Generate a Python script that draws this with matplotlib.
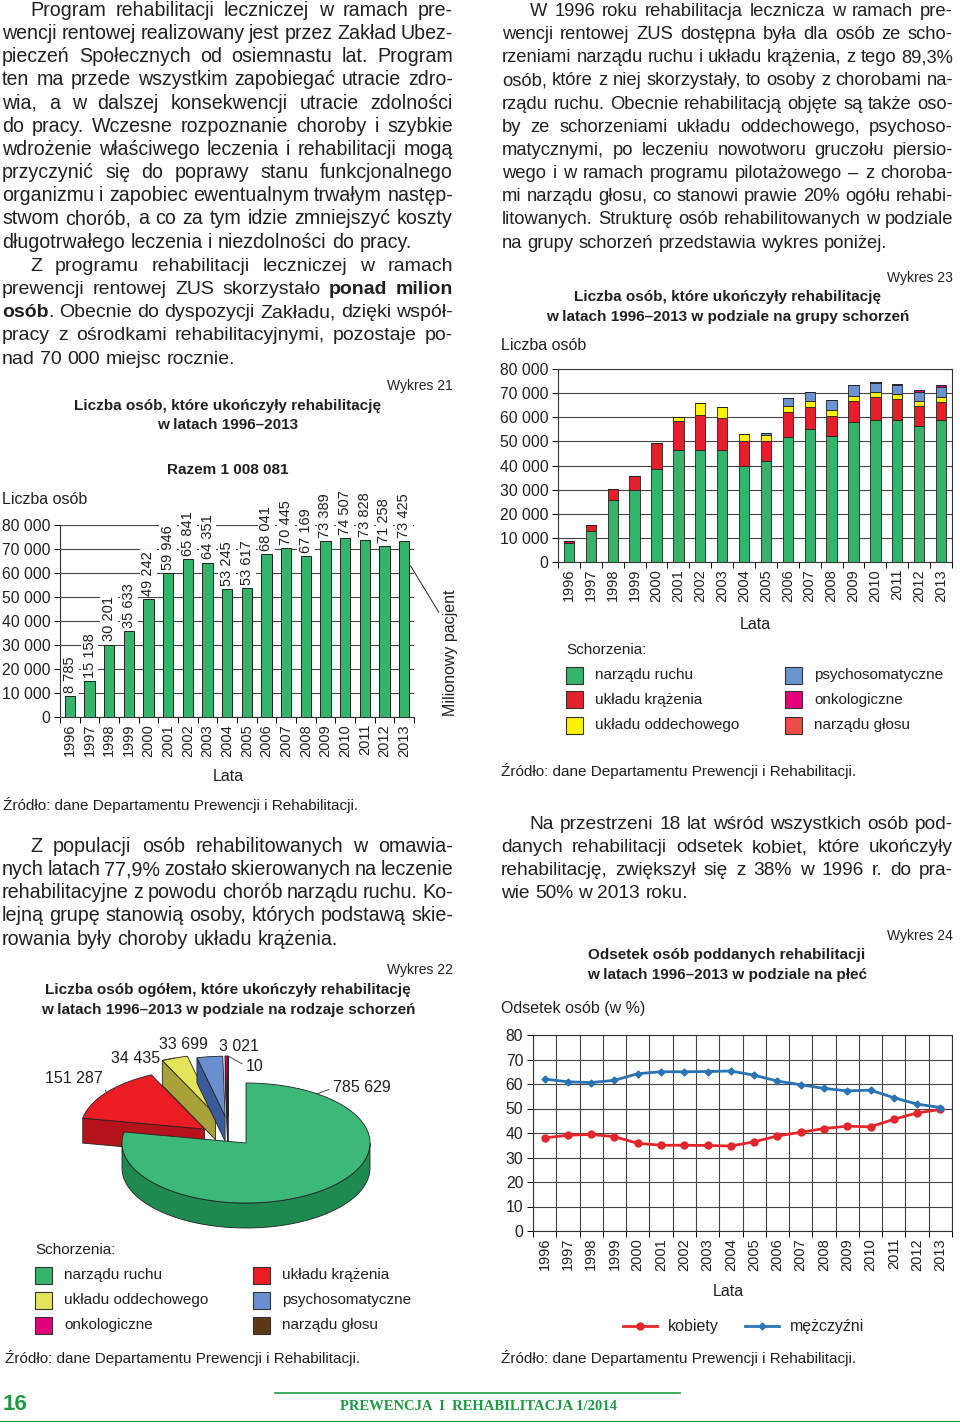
import numpy as np
import matplotlib
matplotlib.use('Agg')
import matplotlib.pyplot as plt
from matplotlib.patches import Polygon, Rectangle
from matplotlib.lines import Line2D

plt.rcParams['font.family'] = ['Liberation Sans', 'DejaVu Sans']

W, H = 960, 1424
INK = '#231f20'

# ---- data ----
years = [str(y) for y in range(1996, 2014)]
# Wykres 21 - total per year
totals = [8785, 15158, 30201, 35633, 49242, 59946, 65841, 64351, 53245,
          53617, 68041, 70445, 67169, 73389, 74507, 73828, 71258, 73425]
# Wykres 23 - per group of diseases
ruchu = [7845, 12700, 25500, 30000, 38500, 46500, 46500, 46500, 39900,
         41700, 51800, 55100, 52100, 58100, 58800, 58800, 56200, 58800]
krazenia = [940, 2458, 4701, 5633, 10742, 12100, 14500, 13200, 10400,
            8300, 10400, 9100, 8500, 8800, 9400, 8700, 8300, 7400]
oddech = [0, 0, 0, 0, 0, 1346, 4841, 4651, 2645,
          2817, 2600, 2400, 2500, 2000, 2100, 2300, 2100, 2000]
psycho = [0, 0, 0, 0, 0, 0, 0, 0, 300,
          800, 3241, 3845, 4069, 4389, 3907, 3628, 3858, 4300]
onko = [0, 0, 0, 0, 0, 0, 0, 0, 0,
        0, 0, 0, 0, 100, 300, 400, 800, 915]
glos = [0, 0, 0, 0, 0, 0, 0, 0, 0,
        0, 0, 0, 0, 0, 0, 0, 0, 10]
groups = ['narządu ruchu', 'układu krążenia', 'układu oddechowego',
          'psychosomatyczne', 'onkologiczne', 'narządu głosu']
# Wykres 22 - totals 1996-2013 per group
pie_vals = [785629, 151287, 34435, 33699, 3021, 10]
# Wykres 24 - share by sex (%)
kobiety = [38.0, 39.1, 39.4, 38.5, 35.8, 35.0, 35.0, 34.9, 34.7,
           36.4, 38.8, 40.3, 41.8, 42.8, 42.5, 45.6, 48.2, 49.6]
mezczyzni = [62.0, 60.9, 60.6, 61.5, 64.2, 65.0, 65.0, 65.1, 65.3,
             63.6, 61.2, 59.7, 58.2, 57.2, 57.5, 54.4, 51.8, 50.4]

bar_cols = ['#34b36a', '#e5202a', '#fff200', '#6b93d0', '#e4007c', '#ee4c46']
pie_top = ['#3cb878', '#ec1c24', '#e4e45a', '#6a8fd0', '#e0007a', '#5c3a16']
pie_side = ['#1f8a50', '#b5121b', '#a9a23a', '#3b5a9a', '#a00058', '#3a240c']
pie_legend = ['#34b36a', '#ec1c24', '#e4e45a', '#6a8fd0', '#e0007a', '#5c3a16']

fig = plt.figure(figsize=(W / 100, H / 100), dpi=100)
R = fig.canvas.get_renderer()


def fx(x):
    return x / W


def fy(y):
    return 1 - y / H


def box(x0, y0, x1, y1):
    return [x0 / W, 1 - y1 / H, (x1 - x0) / W, (y1 - y0) / H]


def txt(x, y, s, size=11, **kw):
    kw.setdefault('va', 'center')
    kw.setdefault('color', INK)
    return fig.text(fx(x), fy(y), s, fontsize=size, **kw)


def width(s, size, weight='normal'):
    t = fig.text(0, 0, s, fontsize=size, fontweight=weight)
    w = t.get_window_extent(R).width
    t.remove()
    return w


def thousands(v):
    return '{:,}'.format(int(v)).replace(',', ' ')


def paragraph(lines, x0, x1, y0, size, step=23.15, indent=28):
    # justified text, **word** = bold
    for k, line in enumerate(lines):
        last = k == len(lines) - 1
        left = x0 + (indent if k == 0 else 0)
        words = []
        for w in line.split(' '):
            segs = [(s, 'bold' if i % 2 else 'normal')
                    for i, s in enumerate(w.split('**')) if s]
            words.append(segs)
        sz = size
        ws = [[width(s, sz, wt) for s, wt in segs] for segs in words]
        sp = width('a a', sz) - width('aa', sz)
        tot = sum(sum(r) for r in ws)
        n = len(words)
        need = tot + 0.7 * sp * (n - 1)
        if need > x1 - left:
            f = (x1 - left) / need
            sz *= f
            ws = [[v * f for v in r] for r in ws]
            sp *= f
            tot *= f
        gap = sp if last else (x1 - left - tot) / max(n - 1, 1)
        x = left
        yb = y0 + k * step + 6
        for segs, wr in zip(words, ws):
            for (s, wt), wv in zip(segs, wr):
                fig.text(fx(x), fy(yb), s, fontsize=sz, fontweight=wt,
                         va='baseline', ha='left', color=INK)
                x += wv
            x += gap


def legend_boxes(x0, y0, colx, labels, colors):
    txt(x0, y0, 'Schorzenia:', 11)
    for k, (lab, col) in enumerate(zip(labels, colors)):
        r, c = k % 3, k // 3
        xx = x0 + c * colx
        yy = y0 + 25 * (r + 1)
        fig.add_artist(Rectangle((fx(xx), fy(yy + 8.5)), 17 / W, 17 / H,
                                 transform=fig.transFigure, fc=col,
                                 ec='#333333', lw=0.8))
        txt(xx + 29, yy, lab, 11)


xs = np.arange(len(years))

# ---------------- text columns ----------------
paragraph([
    'Program rehabilitacji leczniczej w ramach pre-',
    'wencji rentowej realizowany jest przez Zakład Ubez-',
    'pieczeń Społecznych od osiemnastu lat. Program',
    'ten ma przede wszystkim zapobiegać utracie zdro-',
    'wia, a w dalszej konsekwencji utracie zdolności',
    'do pracy. Wczesne rozpoznanie choroby i szybkie',
    'wdrożenie właściwego leczenia i rehabilitacji mogą',
    'przyczynić się do poprawy stanu funkcjonalnego',
    'organizmu i zapobiec ewentualnym trwałym następ-',
    'stwom chorób, a co za tym idzie zmniejszyć koszty',
    'długotrwałego leczenia i niezdolności do pracy.'], 2, 453, 10, 14.1)
paragraph([
    'Z programu rehabilitacji leczniczej w ramach',
    'prewencji rentowej ZUS skorzystało **ponad** **milion**',
    '**osób**. Obecnie do dyspozycji Zakładu, dzięki współ-',
    'pracy z ośrodkami rehabilitacyjnymi, pozostaje po-',
    'nad 70 000 miejsc rocznie.'], 2, 453, 265, 14.0)
paragraph([
    'W 1996 roku rehabilitacja lecznicza w ramach pre-',
    'wencji rentowej ZUS dostępna była dla osób ze scho-',
    'rzeniami narządu ruchu i układu krążenia, z tego 89,3%',
    'osób, które z niej skorzystały, to osoby z chorobami na-',
    'rządu ruchu. Obecnie rehabilitacją objęte są także oso-',
    'by ze schorzeniami układu oddechowego, psychoso-',
    'matycznymi, po leczeniu nowotworu gruczołu piersio-',
    'wego i w ramach programu pilotażowego – z choroba-',
    'mi narządu głosu, co stanowi prawie 20% ogółu rehabi-',
    'litowanych. Strukturę osób rehabilitowanych w podziale',
    'na grupy schorzeń przedstawia wykres poniżej.'], 502, 953, 10, 13.2)
paragraph([
    'Z populacji osób rehabilitowanych w omawia-',
    'nych latach 77,9% zostało skierowanych na leczenie',
    'rehabilitacyjne z powodu chorób narządu ruchu. Ko-',
    'lejną grupę stanowią osoby, których podstawą skie-',
    'rowania były choroby układu krążenia.'], 2, 453, 846, 14.2)
paragraph([
    'Na przestrzeni 18 lat wśród wszystkich osób pod-',
    'danych rehabilitacji odsetek kobiet, które ukończyły',
    'rehabilitację, zwiększył się z 38% w 1996 r. do pra-',
    'wie 50% w 2013 roku.'], 501, 953, 823, 13.8)

# ---------------- Wykres 21 ----------------
txt(453, 386, 'Wykres 21', 10, ha='right')
txt(228, 406, 'Liczba osób, które ukończyły rehabilitację', 11, ha='center', fontweight='bold')
txt(228, 425, 'w latach 1996–2013', 11, ha='center', fontweight='bold')
txt(228, 470, 'Razem ' + thousands(sum(totals)), 11, ha='center', fontweight='bold')
txt(2, 500, 'Liczba osób', 11.5)
txt(228, 777, 'Lata', 11.5, ha='center')
txt(3, 805, 'Źródło: dane Departamentu Prewencji i Rehabilitacji.', 11)

ax1 = fig.add_axes(box(60, 525, 414, 717))
ax1.bar(xs, totals, width=0.52, color=bar_cols[0], edgecolor='#222222',
        linewidth=0.7, zorder=3)
for i, v in enumerate(totals):
    ax1.text(i, v + 1300, thousands(v), rotation=90, ha='center', va='bottom',
             fontsize=10.5, color=INK, zorder=4, clip_on=False,
             bbox=dict(boxstyle='square,pad=0.12', fc='white', ec='none'))
ax1.annotate('', xy=(17.25, 64000), xytext=(22.5, -37), textcoords='offset points',
             arrowprops=dict(arrowstyle='-', lw=0.7, color='#222222'),
             annotation_clip=False)
ax1.annotate('Milionowy pacjent', xy=(17.25, 64000), xytext=(30, -64),
             textcoords='offset points', rotation=90, ha='center', va='center',
             fontsize=11.5, color=INK, annotation_clip=False)

# ---------------- Wykres 23 ----------------
txt(953, 278, 'Wykres 23', 10, ha='right')
txt(728, 297, 'Liczba osób, które ukończyły rehabilitację', 11, ha='center', fontweight='bold')
txt(728, 317, 'w latach 1996–2013 w podziale na grupy schorzeń', 11, ha='center', fontweight='bold')
txt(501, 345, 'Liczba osób', 11.5)
txt(755, 625, 'Lata', 11.5, ha='center')
txt(501, 771, 'Źródło: dane Departamentu Prewencji i Rehabilitacji.', 11)

ax3 = fig.add_axes(box(558, 369, 952, 562))
bottom = np.zeros(len(years))
for serie, col in zip([ruchu, krazenia, oddech, psycho, onko, glos], bar_cols):
    serie = np.array(serie)
    ax3.bar(xs, serie, width=0.47, bottom=bottom, color=col,
            edgecolor='#222222', linewidth=0.6, zorder=3)
    bottom = bottom + serie
legend_boxes(566, 650, 219, groups, bar_cols)

for ax, spines in ((ax1, ('left', 'bottom')), (ax3, ('left', 'bottom', 'top', 'right'))):
    ax.set_xlim(-0.5, len(years) - 0.5)
    ax.set_ylim(0, 80000)
    ax.set_yticks(np.arange(0, 80001, 10000))
    ax.set_yticklabels([thousands(v) for v in np.arange(0, 80001, 10000)])
    ax.set_xticks(xs)
    ax.set_xticklabels(years, rotation=90)
    ax.set_xticks(np.arange(-0.5, len(years)), minor=True)
    ax.tick_params(axis='x', which='major', length=0, pad=5, labelsize=10.5, labelcolor=INK)
    ax.tick_params(axis='x', which='minor', length=4, width=0.7)
    ax.tick_params(axis='y', length=4, width=0.7, pad=3, labelsize=11.3, labelcolor=INK)
    ax.yaxis.grid(True, color='#444444', lw=0.8)
    ax.set_axisbelow(True)
    for s in ax.spines:
        ax.spines[s].set_visible(s in spines)
        ax.spines[s].set_linewidth(0.8)
        ax.spines[s].set_color('#333333')

# ---------------- Wykres 22 (3D pie) ----------------
txt(453, 970, 'Wykres 22', 10, ha='right')
txt(228, 990, 'Liczba osób ogółem, które ukończyły rehabilitację', 11, ha='center', fontweight='bold')
txt(228, 1010, 'w latach 1996–2013 w podziale na rodzaje schorzeń', 11, ha='center', fontweight='bold')

ax2 = fig.add_axes(box(20, 1030, 440, 1240))
ax2.set_xlim(20, 440)
ax2.set_ylim(1240, 1030)
ax2.axis('off')
cx, cy, rx, ry, dep = 246, 1143, 124, 60, 25
explode = [0, 0.38, 0.5, 0.45, 0.45, 0.45]
shift = [0, -4, -10, -14, -18, -18]   # extra sideways shift of the pulled-out slices
sweeps = np.array(pie_vals) / sum(pie_vals) * 360
t_start = 90 - np.concatenate([[0], np.cumsum(sweeps)[:-1]])
t_end = t_start - sweeps
origins = []
for i in range(len(pie_vals)):
    mid = np.radians((t_start[i] + t_end[i]) / 2)
    origins.append((cx + explode[i] * rx * np.cos(mid) + shift[i],
                    cy - explode[i] * ry * np.sin(mid)))


def rim(i, th, drop=0):
    ox, oy = origins[i]
    return (ox + rx * np.cos(th), oy - ry * np.sin(th) + drop)


order = sorted(range(len(pie_vals)), key=lambda i: origins[i][1])
for i in order:
    ox, oy = origins[i]
    a, b = np.radians(t_start[i]), np.radians(t_end[i])
    kw = dict(ec='#222222', lw=0.6, joinstyle='round')
    # radial faces
    if np.cos(a) < -1e-6:
        p1, p2 = rim(i, a), rim(i, a, dep)
        ax2.add_patch(Polygon([(ox, oy), p1, p2, (ox, oy + dep)], fc=pie_side[i], **kw))
    if np.cos(b) > 1e-6:
        p1, p2 = rim(i, b), rim(i, b, dep)
        ax2.add_patch(Polygon([(ox, oy), p1, p2, (ox, oy + dep)], fc=pie_side[i], **kw))
    # outer wall (front half)
    th = np.linspace(b, a, max(int(np.degrees(a - b) * 2), 3))
    front = np.sin(th) <= 0
    if front.any():
        tt = th[front]
        top = [rim(i, t) for t in tt]
        bot = [rim(i, t, dep) for t in tt[::-1]]
        ax2.add_patch(Polygon(top + bot, fc=pie_side[i], **kw))
    # top face
    ax2.add_patch(Polygon([(ox, oy)] + [rim(i, t) for t in th], fc=pie_top[i], **kw))

# value labels: (angle, offset px, ha, leader)
lab_pos = [(55, (16, -6), 'left', True), (None, (-4, -14), 'right', True),
           (None, (-15, 0), 'right', True), (None, (-2, -12), 'right', True),
           (None, (-7, -10), 'left', False), (None, (18, 10), 'left', True)]
for i, (ang, (dx, dy), ha, lead) in enumerate(lab_pos):
    th = np.radians(ang if ang is not None else (t_start[i] + t_end[i]) / 2)
    rp = (0, 0.5) if ha == 'left' else (1, 0.3)
    ax2.annotate(thousands(pie_vals[i]), xy=rim(i, th), xytext=(dx * 0.72, -dy * 0.72),
                 textcoords='offset points', ha=ha, va='center', fontsize=11.5, color=INK,
                 arrowprops=dict(arrowstyle='-', lw=0.6, color='#333333', relpos=rp,
                                 shrinkA=1, shrinkB=0) if lead else None,
                 annotation_clip=False)

leg_order = [0, 2, 4, 1, 3, 5]
legend_boxes(35, 1250, 218, [groups[k] for k in leg_order],
             [pie_legend[k] for k in leg_order])
txt(5, 1358, 'Źródło: dane Departamentu Prewencji i Rehabilitacji.', 11)

# ---------------- Wykres 24 ----------------
txt(953, 936, 'Wykres 24', 10, ha='right')
txt(727, 955, 'Odsetek osób poddanych rehabilitacji', 11, ha='center', fontweight='bold')
txt(727, 975, 'w latach 1996–2013 w podziale na płeć', 11, ha='center', fontweight='bold')
txt(501, 1008, 'Odsetek osób (w %)', 11.5)
txt(728, 1292, 'Lata', 11.5, ha='center')
txt(501, 1358, 'Źródło: dane Departamentu Prewencji i Rehabilitacji.', 11)

RED, BLUE = '#e3262b', '#2a74b5'
ax4 = fig.add_axes(box(533, 1035, 952, 1231))
ax4.plot(xs, kobiety, color=RED, lw=2, marker='o', ms=5, zorder=3)
ax4.plot(xs, mezczyzni, color=BLUE, lw=2, marker='D', ms=3.5, zorder=3)
ax4.set_xlim(-0.5, len(years) - 0.5)
ax4.set_ylim(0, 80)
ax4.set_yticks(np.arange(0, 81, 10))
ax4.set_xticks(xs)
ax4.set_xticklabels(years, rotation=90)
ax4.set_xticks(np.arange(-0.5, len(years)), minor=True)
ax4.tick_params(axis='x', which='major', length=0, pad=5, labelsize=10.5, labelcolor=INK)
ax4.tick_params(axis='x', which='minor', length=4, width=0.7)
ax4.tick_params(axis='y', length=4, width=0.7, pad=3, labelsize=11.3, labelcolor=INK)
ax4.grid(True, which='minor', axis='x', color='#444444', lw=0.8)
ax4.grid(True, which='major', axis='y', color='#444444', lw=0.8)
ax4.set_axisbelow(True)
for s in ax4.spines.values():
    s.set_linewidth(0.8)
    s.set_color('#333333')

for x0, col, mk, ms, lab in ((623, RED, 'o', 5, 'kobiety'), (745, BLUE, 'D', 3.5, 'mężczyźni')):
    fig.add_artist(Line2D([fx(x0), fx(x0 + 34)], [fy(1326), fy(1326)], color=col, lw=2,
                          transform=fig.transFigure))
    fig.add_artist(Line2D([fx(x0 + 17)], [fy(1326)], color=col, marker=mk, ms=ms,
                          transform=fig.transFigure))
    txt(x0 + 45, 1326, lab, 11.5)

# ---------------- footer ----------------
GREEN_F = '#1f9a44'
fig.add_artist(Line2D([fx(275), fx(680)], [fy(1393), fy(1393)], color=GREEN_F, lw=1.2,
                      transform=fig.transFigure))
fig.add_artist(Line2D([0, 1], [fy(1421), fy(1421)], color=GREEN_F, lw=0.8,
                      transform=fig.transFigure))
txt(3, 1404, '16', 16, fontweight='bold', color=GREEN_F)
txt(478, 1407, 'PREWENCJA  I  REHABILITACJA 1/2014', 10.5, ha='center',
    fontweight='bold', color=GREEN_F, family=['Liberation Serif', 'DejaVu Serif'])

fig.savefig('out.png', dpi=100, facecolor='white')
